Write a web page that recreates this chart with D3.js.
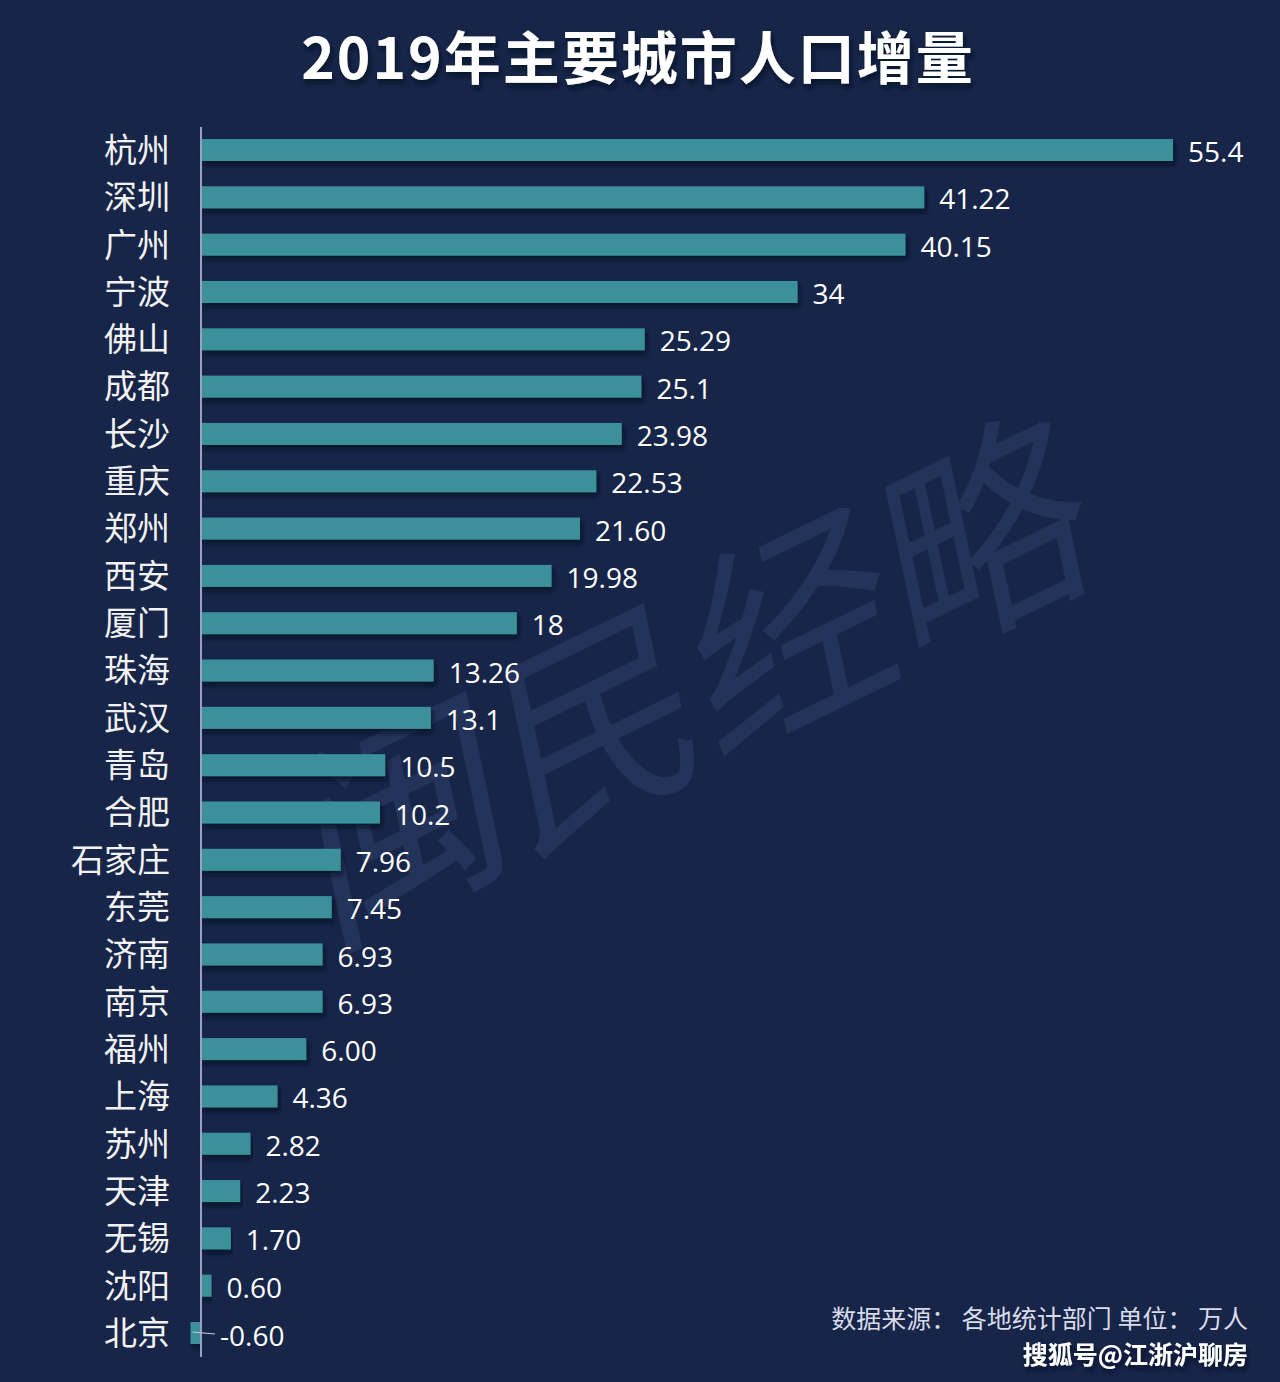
<!DOCTYPE html>
<html lang="zh">
<head>
<meta charset="UTF-8">
<title>2019年主要城市人口增量</title>
<script src="https://d3js.org/d3.v7.min.js"></script>
<style>
  html, body { margin: 0; padding: 0; background: #172548; }
</style>
</head>
<body>
<script>
  // 城市与人口增量（万人）
  var cities = ["杭州","深圳","广州","宁波","佛山","成都","长沙","重庆","郑州","西安","厦门","珠海","武汉",
                "青岛","合肥","石家庄","东莞","济南","南京","福州","上海","苏州","天津","无锡","沈阳","北京"];
  var values = [55.4, 41.22, 40.15, 34, 25.29, 25.1, 23.98, 22.53, 21.60, 19.98, 18, 13.26, 13.1,
                10.5, 10.2, 7.96, 7.45, 6.93, 6.93, 6.00, 4.36, 2.82, 2.23, 1.70, 0.60, -0.60];
  var labels = ["55.4","41.22","40.15","34","25.29","25.1","23.98","22.53","21.60","19.98","18","13.26","13.1",
                "10.5","10.2","7.96","7.45","6.93","6.93","6.00","4.36","2.82","2.23","1.70","0.60","-0.60"];

  var W = 1280, H = 1382;
  var data = cities.map(function (c, i) { return { city: c, value: values[i], label: labels[i] }; });

  var svg = d3.select("body").append("svg")
    .attr("width", W).attr("height", H);

  var defs = svg.append("defs");
  var f = defs.append("filter").attr("id", "shadow")
    .attr("x", "-5%").attr("y", "-50%").attr("width", "110%").attr("height", "220%");
  f.append("feDropShadow").attr("dx", 2).attr("dy", 4).attr("stdDeviation", 2.5)
    .attr("flood-color", "#050c20").attr("flood-opacity", 0.75);

  svg.append("rect").attr("width", W).attr("height", H).attr("fill", "#172548");

  // watermark
  svg.append("text")
    .attr("transform", "translate(680,690) rotate(-26)")
    .attr("text-anchor", "middle")
    .attr("dy", "0.35em")
    .attr("font-family", "Noto Sans CJK SC")
    .attr("font-size", 215)
    .attr("fill", "#3a4c78")
    .attr("opacity", 0.38)
    .attr("font-style", "italic")
    .text("闽民经略");

  var x = d3.scaleLinear().domain([0, 55.4]).range([201, 1173]);
  var y = d3.scalePoint().domain(cities).range([150, 1333]);
  var barH = 22;

  // title
  svg.append("text")
    .attr("x", 638).attr("y", 79)
    .attr("text-anchor", "middle")
    .attr("font-family", "Noto Sans CJK SC")
    .attr("font-weight", "bold")
    .attr("font-size", 57)
    .attr("letter-spacing", 2)
    .attr("fill", "#ffffff")
    .attr("filter", "url(#shadow)")
    .text("2019年主要城市人口增量");

  // bars
  svg.selectAll(".bar").data(data).enter().append("rect")
    .attr("class", "bar")
    .attr("x", function (d) { return Math.min(x(0), x(d.value)); })
    .attr("y", function (d) { return y(d.city) - barH / 2; })
    .attr("width", function (d) { return Math.abs(x(d.value) - x(0)); })
    .attr("height", barH)
    .attr("fill", "#3b9099")
    .attr("filter", "url(#shadow)");

  // axis line
  svg.append("line")
    .attr("x1", x(0)).attr("x2", x(0))
    .attr("y1", 127).attr("y2", 1357)
    .attr("stroke", "#9aa0bf").attr("stroke-width", 2);

  // city labels
  svg.selectAll(".city").data(data).enter().append("text")
    .attr("class", "city")
    .attr("x", 170)
    .attr("y", function (d) { return y(d.city); })
    .attr("dy", "0.36em")
    .attr("text-anchor", "end")
    .attr("font-family", "Noto Sans CJK SC")
    .attr("font-size", 33)
    .attr("fill", "#f2f2f2")
    .text(function (d) { return d.city; });

  // leader line for negative value
  data.filter(function (d) { return d.value < 0; }).forEach(function (d) {
    svg.append("line")
      .attr("x1", x(d.value) + 2).attr("x2", x(0) + 14)
      .attr("y1", y(d.city) - 1).attr("y2", y(d.city) + 1)
      .attr("stroke", "#c8cbe0").attr("stroke-width", 1.2);
  });

  // value labels
  svg.selectAll(".val").data(data).enter().append("text")
    .attr("class", "val")
    .attr("x", function (d) { return d.value < 0 ? x(0) + 19 : x(d.value) + 15; })
    .attr("y", function (d) { return y(d.city) + (d.value < 0 ? 3 : 2); })
    .attr("dy", "0.36em")
    .attr("font-family", "Open Sans")
    .attr("font-size", 28)
    .attr("fill", "#ffffff")
    .text(function (d) { return d.label; });

  // footer
  svg.append("text")
    .attr("x", 1248).attr("y", 1328)
    .attr("text-anchor", "end")
    .attr("font-family", "Noto Sans CJK SC")
    .attr("font-size", 25)
    .attr("fill", "#d8dbe8")
    .attr("xml:space", "preserve")
    .text("数据来源： 各地统计部门 单位： 万人");

  svg.append("text")
    .attr("x", 1248).attr("y", 1364)
    .attr("text-anchor", "end")
    .attr("font-family", "Noto Sans CJK SC")
    .attr("font-weight", "bold")
    .attr("font-size", 25)
    .attr("fill", "#ffffff")
    .attr("filter", "url(#shadow)")
    .text("搜狐号@江浙沪聊房");
</script>
</body>
</html>
